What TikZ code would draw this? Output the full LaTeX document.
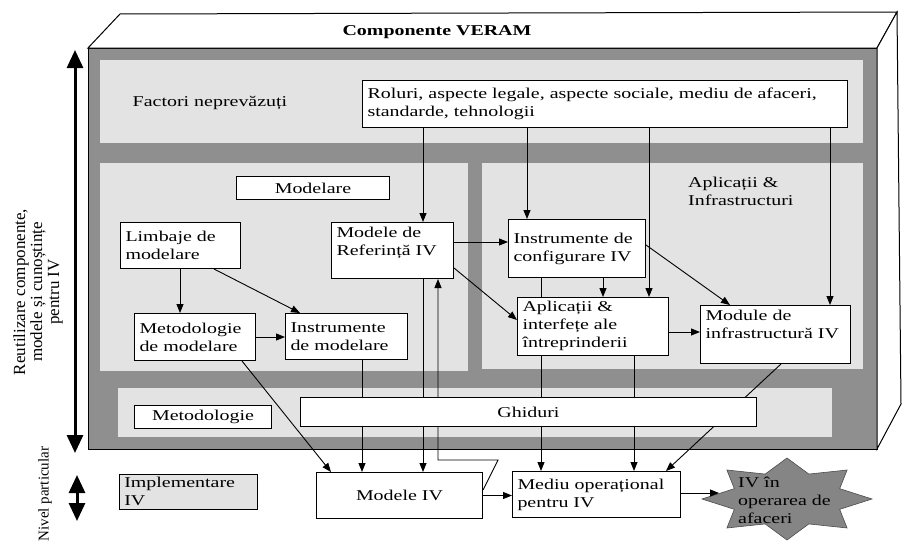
\documentclass[tikz,border=0pt]{standalone}
\usepackage{fontspec}
\setmainfont{Liberation Serif}[FakeStretch=1.33]
\newfontfamily\sidefont{Liberation Serif}
\usetikzlibrary{arrows.meta}

\pgfdeclarelayer{panels}
\pgfdeclarelayer{lines}
\pgfsetlayers{panels,lines,main}

\definecolor{bandgray}{gray}{0.56}
\definecolor{panelgray}{gray}{0.89}
\definecolor{stargray}{gray}{0.52}

\tikzset{
  box/.style={draw, fill=white, line width=1pt, inner xsep=5pt, inner ysep=4pt,
    anchor=north west, align=left, font=\fontsize{15}{18}\selectfont},
  txt/.style={inner sep=0pt, align=left, font=\fontsize{15}{18}\selectfont},
  arr/.style={-{Triangle[length=9pt,width=7pt]}, line width=0.9pt},
  bigarr/.style={{Triangle[length=18pt,width=16pt]}-{Triangle[length=18pt,width=16pt]}, line width=3pt},
}

\begin{document}
\begin{tikzpicture}[x=1pt, y=-1pt] % un punct = un pixel, y in jos

  \useasboundingbox (0,0) rectangle (903,546);

  % Cutia VERAM (fata, capac, lateral)
  \begin{pgfonlayer}{panels}
    \fill[bandgray] (88,48) rectangle (877,449);
    \fill[panelgray] (100,60) rectangle (863,143);   % factori
    \fill[panelgray] (100,163) rectangle (468,371);  % modelare
    \fill[panelgray] (482,163) rectangle (863,369);  % aplicatii
    \fill[panelgray] (118,388) rectangle (832,437);  % metodologie
    \draw[line width=1pt] (88,48) rectangle (877,449);
    \filldraw[fill=white, line width=1pt] (88,48) -- (120,14) -- (897,12) -- (877,48) -- cycle;
    \filldraw[fill=white, line width=1pt] (877,48) -- (897,12) -- (901,404) -- (877,449) -- cycle;

    % Steaua de iesire
    \filldraw[stargray, draw=black!70, line width=0.6pt]
      plot[variable=\t, samples at={0,...,15}]
      ({787 + ifthenelse(mod(\t,2)==0, 85, 57)*cos(90+22.5*\t)},
       {499 - ifthenelse(mod(\t,2)==0, 41, 27)*sin(90+22.5*\t)}) -- cycle;
  \end{pgfonlayer}

  % Titluri si zone
  \node[txt, font=\fontsize{15}{18}\selectfont\bfseries] (veram) at (437,32) {Componente VERAM};
  \node[txt] (factori) at (210,103) {Factori neprevăzuți};
  \node[txt, anchor=north west] (aplinfra) at (688,177) {Aplicații \&\\Infrastructuri};

  % Casete
  \node[box, minimum width=485pt, minimum height=47pt, text width=475pt] (roluri) at (362,80)
    {Roluri, aspecte legale, aspecte sociale, mediu de afaceri,\\standarde, tehnologii};
  \node[box, align=center, minimum width=153pt, minimum height=23pt, text width=143pt, inner ysep=1pt] (modelare) at (236,176) {Modelare};
  \node[box, minimum width=120pt, minimum height=46pt, text width=110pt] (limbaje) at (120,222) {Limbaje de\\modelare};
  \node[box, minimum width=122pt, minimum height=56pt, text width=112pt, text depth=37pt] (refmod) at (331,222) {Modele de\\Referință IV};
  \node[box, minimum width=137pt, minimum height=58pt, text width=127pt] (instconf) at (508,219) {Instrumente de\\configurare IV};
  \node[box, minimum width=151pt, minimum height=57pt, text width=141pt] (aplic) at (517,297) {Aplicații \&\\interfețe ale\\întreprinderii};
  \node[box, minimum width=150pt, minimum height=58pt, text width=140pt, text depth=39pt] (modinfra) at (700,305) {Module de\\infrastructură IV};
  \node[box, minimum width=121pt, minimum height=47pt, text width=111pt] (metmod) at (134,313) {Metodologie\\de modelare};
  \node[box, minimum width=122pt, minimum height=46pt, text width=112pt] (instmod) at (285,313) {Instrumente\\de modelare};
  \node[box, align=center, minimum width=137pt, minimum height=23pt, text width=127pt, inner ysep=1pt] (metodol) at (134,405) {Metodologie};
  \node[box, align=center, minimum width=456pt, minimum height=29pt, text width=446pt, inner ysep=1pt] (ghiduri) at (300,397) {Ghiduri};
  \node[box, fill=panelgray, line width=0.6pt, minimum width=138pt, minimum height=35pt, text width=128pt, inner ysep=1pt] (implem) at (119,474) {Implementare\\IV};
  \node[box, align=center, minimum width=166pt, minimum height=46pt, text width=156pt] (modele) at (316,472) {Modele IV};
  \node[box, minimum width=168pt, minimum height=46pt, text width=158pt] (mediu) at (512,471) {Mediu operațional\\pentru IV};
  \node[txt, anchor=north west] (operare) at (738,477) {IV în\\operarea de\\afaceri};
  \coordinate (startip) at (719,493);

  % Sageti laterale
  \coordinate (reutop) at (75,50);
  \coordinate (reubot) at (75,453);
  \coordinate (nivtop) at (77,475);
  \coordinate (nivbot) at (77,521);
  \draw[bigarr] (reutop) -- (reubot);
  \draw[bigarr] (nivtop) -- (nivbot);
  \node[rotate=90, align=center, inner sep=0pt, font=\sidefont\fontsize{17}{17}\selectfont] (reutil) at (38,292)
    {Reutilizare componente,\\modele și cunoștințe\\pentru IV};
  \node[rotate=90, inner sep=0pt, font=\sidefont\fontsize{15}{15}\selectfont] (nivel) at (45,494) {Nivel particular};

  % Legaturi
  \begin{pgfonlayer}{lines}
    \draw[arr] (423,0 |- roluri.south) -- (423,0 |- refmod.north);
    \draw[arr] (527,0 |- roluri.south) -- (527,0 |- instconf.north);
    \draw[arr] (649,0 |- roluri.south) -- (649,0 |- aplic.north);
    \draw[arr] (830,0 |- roluri.south) -- (830,0 |- modinfra.north);

    \draw[arr] (refmod.east |- 0,242) -- (instconf.west |- 0,242);
    \draw[arr] (refmod.east |- 0,268) -- (aplic.west |- 0,320);
    \draw[arr] (603,0 |- instconf.south) -- (603,0 |- aplic.north);
    \draw[arr] (instconf.east |- 0,245) -- (730,0 |- modinfra.north);
    \draw[arr] (aplic.east |- 0,332) -- (modinfra.west |- 0,332);

    \draw[arr] (180,0 |- limbaje.south) -- (180,0 |- metmod.north);
    \draw[arr] (214,0 |- limbaje.south) -- (300,0 |- instmod.north);
    \draw[arr] (metmod.east |- 0,337) -- (instmod.west |- 0,337);

    \draw[arr] (242,0 |- metmod.south) -- (331,0 |- modele.north);
    \draw[arr] (362,0 |- instmod.south) -- (362,0 |- modele.north);
    \draw[arr] (423,0 |- refmod.south) -- (423,0 |- modele.north);
    \draw[arr] (modele.east |- 0,490) -- (498,460) -- (438,460) -- (438,0 |- refmod.south);
    \draw[arr] (modele.east) -- (mediu.west |- modele.east);

    \draw[arr] (541,0 |- instconf.south) -- (541,0 |- mediu.north);
    \draw[arr] (634,0 |- aplic.south) -- (634,0 |- mediu.north);
    \draw[arr] (781,0 |- modinfra.south) -- (666,0 |- mediu.north);
    \draw[arr] (mediu.east |- startip) -- (startip);
  \end{pgfonlayer}

\end{tikzpicture}
\end{document}
